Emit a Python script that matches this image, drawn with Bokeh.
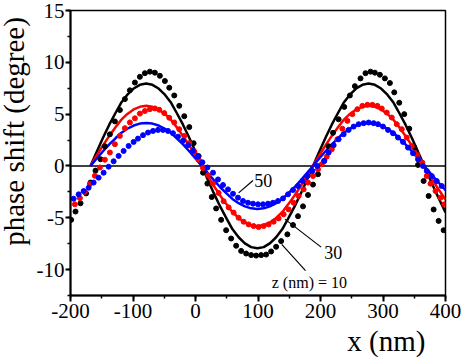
from bokeh.plotting import figure
from bokeh.layouts import row, column
from bokeh.models import Span, Label, FixedTicker, Range1d
from bokeh.embed import file_html
from bokeh.resources import INLINE
from math import pi

# ---------------- data ----------------
X_TICKS = [-200, -100, 0, 100, 200, 300, 400]
X_MINOR = [-200, -150, -100, -50, 0, 50, 100, 150, 200, 250, 300, 350, 400]
Y_TICKS = [-10, -5, 0, 5, 10, 15]
Y_MINOR = [-12.5, -10, -7.5, -5, -2.5, 0, 2.5, 5, 7.5, 10, 12.5, 15]

# fitted curves (solid lines)
line_x = [-168, -158, -148, -138, -128, -119, -109, -99, -89, -79, -69, -59, -49, -39, -30,
          -20, -10, 0, 10, 20, 30, 40, 50, 59, 69, 79, 89, 99, 109, 119, 129, 139, 148, 158,
          168, 178, 188, 198, 208, 218, 228, 237, 247, 257, 267, 277, 287, 297, 307, 317, 326,
          336, 346, 356, 366, 376, 386, 396, 400]
line_z10 = [0, 1.38, 2.72, 3.98, 5.11, 6.09, 6.88, 7.47, 7.83, 7.95,
            7.83, 7.47, 6.88, 6.09, 5.11, 3.98, 2.72, 1.38, 0,
            -1.38, -2.72, -3.98, -5.11, -6.09, -6.88, -7.47, -7.83, -7.95,
            -7.83, -7.47, -6.88, -6.09, -5.11, -3.98, -2.72, -1.38, 0,
            1.38, 2.72, 3.98, 5.11, 6.09, 6.88, 7.47, 7.83, 7.95,
            7.83, 7.47, 6.88, 6.09, 5.11, 3.98, 2.72, 1.38, 0,
            -1.38, -2.72, -3.98, -4.49]
line_z30 = [0, 1.01, 1.98, 2.90, 3.73, 4.44, 5.02, 5.45, 5.71, 5.80,
            5.71, 5.45, 5.02, 4.44, 3.73, 2.90, 1.98, 1.01, 0,
            -1.01, -1.98, -2.90, -3.73, -4.44, -5.02, -5.45, -5.71, -5.80,
            -5.71, -5.45, -5.02, -4.44, -3.73, -2.90, -1.98, -1.01, 0,
            1.01, 1.98, 2.90, 3.73, 4.44, 5.02, 5.45, 5.71, 5.80,
            5.71, 5.45, 5.02, 4.44, 3.73, 2.90, 1.98, 1.01, 0,
            -1.01, -1.98, -2.90, -3.28]
line_z50 = [0, 0.72, 1.42, 2.08, 2.67, 3.18, 3.59, 3.90, 4.09, 4.15,
            4.09, 3.90, 3.59, 3.18, 2.67, 2.08, 1.42, 0.72, 0,
            -0.72, -1.42, -2.08, -2.67, -3.18, -3.59, -3.90, -4.09, -4.15,
            -4.09, -3.90, -3.59, -3.18, -2.67, -2.08, -1.42, -0.72, 0,
            0.72, 1.42, 2.08, 2.67, 3.18, 3.59, 3.90, 4.09, 4.15,
            4.09, 3.90, 3.59, 3.18, 2.67, 2.08, 1.42, 0.72, 0,
            -0.72, -1.42, -2.08, -2.34]

# measured points (dots)
dots10_x = [-199, -192, -184, -175, -168, -160, -152, -145, -137, -129, -121, -113, -105, -97,
            -89, -81, -73, -65, -57, -49, -42, -34, -26, -18, -10, -3, 5, 12, 19, 26, 33, 41,
            49, 57, 65, 73, 81, 89, 97, 105, 113, 121, 129, 137, 147, 156, 164, 172, 180, 188,
            196, 206, 213, 220, 229, 238, 247, 255, 264, 272, 280, 287, 295, 303, 311, 318,
            326, 334, 342, 350, 356, 365, 373, 381, 389, 397]
dots10_y = [-5.2, -4.4, -3.6, -2.65, -1.6, -0.45, 0.65, 1.9, 3.05, 4.3, 5.4, 6.45, 7.3, 8.05,
            8.6, 8.95, 9.1, 9.0, 8.7, 8.2, 7.55, 6.8, 5.8, 4.8, 3.75, 2.2, 0.95, -0.65, -1.7,
            -3.0, -4.1, -5.2, -6.2, -7.0, -7.7, -8.2, -8.45, -8.6, -8.65, -8.6, -8.55, -8.25,
            -7.8, -7.25, -6.6, -5.7, -4.85, -3.9, -2.8, -1.8, -0.8, 0.5, 1.9, 3.2, 4.5, 5.7,
            6.8, 7.7, 8.45, 8.95, 9.1, 9.0, 8.8, 8.45, 8.0, 7.1, 6.1, 5.0, 3.6, 1.8, 0.1,
            -1.45, -2.9, -4.2, -5.3, -6.2]
dots30_x = [-193, -185, -177, -169, -161, -153, -145, -137, -129, -121, -113, -105, -97, -89,
            -81, -73, -65, -58, -50, -42, -34, -26, -18, -10, -2, 5, 12, 20, 28, 37, 45, 53,
            61, 69, 77, 85, 93, 101, 109, 117, 125, 133, 141, 149, 157, 165, 173, 180, 188,
            196, 202, 210, 218, 227, 235, 243, 251, 259, 267, 275, 283, 291, 298, 306, 314,
            322, 330, 338, 346, 355, 363, 370, 376, 384, 392, 398]
dots30_y = [-3.7, -3.1, -2.5, -1.75, -0.95, -0.15, 0.6, 1.3, 2.1, 2.9, 3.65, 4.2, 4.6, 5.05,
            5.3, 5.48, 5.55, 5.42, 5.1, 4.65, 4.2, 3.55, 2.9, 2.2, 1.4, 0.6, -0.2, -0.9, -1.7,
            -2.6, -3.4, -4.0, -4.5, -5.0, -5.38, -5.64, -5.8, -5.9, -5.8, -5.64, -5.38, -5.06,
            -4.67, -4.19, -3.55, -2.9, -2.26, -1.6, -0.97, -0.32, 0.16, 0.9, 1.6, 2.58, 3.6,
            4.35, 5.0, 5.48, 5.8, 5.9, 5.9, 5.8, 5.54, 5.15, 4.67, 4.03, 3.55, 2.74, 1.93,
            1.06, 0.32, -0.97, -1.71, -2.42, -3.06, -3.7]
dots50_x = [-195, -187, -179, -171, -163, -155, -147, -139, -131, -123, -115, -107, -99, -92,
            -84, -76, -68, -60, -52, -44, -36, -28, -20, -12, -4, 4, 11, 19, 28, 36, 44, 52,
            60, 68, 76, 84, 92, 100, 108, 116, 124, 132, 140, 148, 156, 164, 171, 179, 187,
            195, 206, 213, 221, 229, 237, 245, 253, 261, 269, 277, 285, 292, 300, 308, 316,
            324, 332, 340, 348, 356, 364, 370, 378, 386, 394]
dots50_y = [-3.16, -2.74, -2.42, -2.1, -1.6, -1.13, -0.65, -0.07, 0.45, 0.97, 1.45, 1.93,
            2.32, 2.64, 2.97, 3.22, 3.38, 3.48, 3.48, 3.38, 3.16, 2.83, 2.42, 2.0, 1.45, 0.9,
            0.35, -0.15, -0.65, -1.3, -1.84, -2.26, -2.68, -3.06, -3.38, -3.55, -3.64, -3.7,
            -3.7, -3.64, -3.55, -3.38, -3.13, -2.74, -2.32, -1.93, -1.45, -0.97, -0.48, 0.0,
            0.48, 1.29, 2.0, 2.58, 3.06, 3.48, 3.8, 4.03, 4.13, 4.19, 4.13, 4.03, 3.8, 3.48,
            3.16, 2.74, 2.32, 1.77, 1.23, 0.64, 0.0, -0.48, -0.97, -1.45, -1.93]

# annotations: text, anchor, font size, leader line start/end
ann_text = ["50", "30", "z (nm) = 10"]
ann_x = [94, 206, 122]
ann_y = [-1.45, -8.38, -11.2]
ann_size = ["18px", "18px", "16px"]
lead_x0 = [69, 143, 138]
lead_y0 = [-2.6, -5.13, -7.57]
lead_x1 = [92, 201, 176]
lead_y1 = [-1.4, -7.83, -10.1]

X_TITLE = "x (nm)"
Y_TITLE = "phase shift (degree)"
FONT = "Liberation Serif"

# ---------------- layout sizes (pixels) ----------------
YLAB_W = 33          # strip holding the y title
MAIN_W = 463 - YLAB_W
MAIN_H = 327
XLAB_H = 359 - MAIN_H
BASE_SHIFT = 12.6    # Bokeh label anchor -> drawn baseline, for 29px text


def blank(w, h):
    f = figure(width=w, height=h, x_range=Range1d(0, w), y_range=Range1d(0, h),
               output_backend="svg", toolbar_location=None, min_border=0)
    f.axis.visible = False
    f.grid.visible = False
    f.outline_line_color = None
    f.background_fill_color = "white"
    f.border_fill_color = "white"
    return f


# ---------------- main figure ----------------
p = figure(width=MAIN_W, height=MAIN_H, x_range=Range1d(-200, 400), y_range=Range1d(-12.5, 15),
           output_backend="svg", toolbar_location=None,
           min_border_left=67 - YLAB_W, min_border_right=18, min_border_top=10,
           min_border_bottom=MAIN_H - 295)
p.grid.visible = False
p.background_fill_color = "white"
p.border_fill_color = "white"
p.outline_line_color = "black"
p.outline_line_width = 1.5

for ax, ticks in ((p.xaxis[0], X_TICKS), (p.yaxis[0], Y_TICKS)):
    ax.axis_line_color = "black"
    ax.axis_line_width = 2
    ax.major_tick_line_color = "black"
    ax.major_tick_line_width = 2
    ax.minor_tick_line_color = "black"
    ax.minor_tick_line_width = 1.5
    ax.major_tick_in = 0
    ax.minor_tick_in = 0
    ax.minor_tick_out = 3
    ax.major_label_text_font = FONT
    ax.major_label_text_font_size = "21px"
    ax.major_label_text_color = "black"
    ax.major_label_overrides = {t: str(t) for t in ticks}   # plain hyphen minus

p.xaxis[0].ticker = FixedTicker(ticks=X_TICKS, minor_ticks=X_MINOR)
p.xaxis[0].major_tick_out = 6
p.xaxis[0].major_label_standoff = 2
p.yaxis[0].ticker = FixedTicker(ticks=Y_TICKS, minor_ticks=Y_MINOR)
p.yaxis[0].major_tick_out = 5
p.yaxis[0].major_label_standoff = 1

p.add_layout(Span(location=0, dimension="width", line_color="black", line_width=1.5,
                  level="underlay"))

p.line(line_x, line_z10, line_color="black", line_width=2.5)
p.line(line_x, line_z30, line_color="#ff0000", line_width=2.5)
p.line(line_x, line_z50, line_color="#0000ff", line_width=2.5)

p.scatter(dots10_x, dots10_y, marker="circle", size=5, color="black")
p.scatter(dots30_x, dots30_y, marker="circle", size=5, color="#ff0000")
p.scatter(dots50_x, dots50_y, marker="circle", size=5, color="#0000ff")

p.segment(lead_x0, lead_y0, lead_x1, lead_y1, line_color="black", line_width=1.2)
for t, x, y, s in zip(ann_text, ann_x, ann_y, ann_size):
    p.add_layout(Label(x=x, y=y, text=t, text_font=FONT, text_font_size=s,
                       text_align="left", text_baseline="middle", text_color="black"))

# ---------------- axis titles (own strips) ----------------
ylab = blank(YLAB_W, 359)
ylab.add_layout(Label(x=26.2 - BASE_SHIFT, y=359 - 131, text=Y_TITLE, angle=pi / 2,
                      text_font=FONT, text_font_size="29px", text_align="center",
                      text_baseline="alphabetic", text_color="black"))

xlab = blank(MAIN_W, XLAB_H)
xlab.add_layout(Label(x=440 - YLAB_W, y=(359 - 353) + BASE_SHIFT, text=X_TITLE,
                      text_font=FONT, text_font_size="29px", text_align="right",
                      text_baseline="alphabetic", text_color="black"))

layout = row(ylab, column(p, xlab, spacing=0), spacing=0)

open("out.html", "w").write(file_html(layout, INLINE))
